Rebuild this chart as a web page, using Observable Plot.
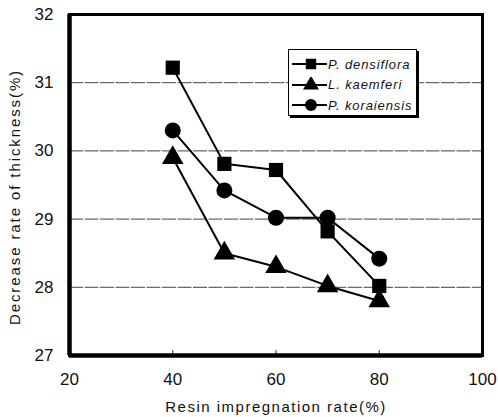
<!DOCTYPE html>
<html>
<head>
<meta charset="utf-8">
<script src="https://cdn.jsdelivr.net/npm/d3@7"></script>
<script src="https://cdn.jsdelivr.net/npm/@observablehq/plot@0.6"></script>
<style>
  html, body { margin: 0; padding: 0; background: #fff; }
  #wrap { position: relative; width: 498px; height: 417px; font-family: "Liberation Sans", Arial, sans-serif; }
  #legend { position: absolute; left: 288px; top: 49px; width: 129px; height: 67px;
    border: 1px solid #000; box-shadow: 2px 2px 0 #000; background: #fff; box-sizing: border-box; padding-top: 4px; }
  .row { display: flex; align-items: center; height: 20.5px; }
  .row span { font-style: italic; font-size: 13px; letter-spacing: 0.9px; margin-left: 1px; color: #111; }
</style>
</head>
<body>
<div id="wrap"></div>
<script>
const rates = [40, 50, 60, 70, 80];
const seriesNames = ["P. densiflora", "L. kaemferi", "P. koraiensis"];
const densiflora = [31.22, 29.81, 29.72, 28.82, 28.02];
const kaemferi = [29.9, 28.5, 28.3, 28.02, 27.8];
const koraiensis = [30.3, 29.42, 29.02, 29.02, 28.42];
const xTicks = [20, 40, 60, 80, 100];
const yTicks = [27, 28, 29, 30, 31, 32];
const gridValues = [28, 29, 30, 31];
const innerTicks = [40, 60, 80];
const symbols = ["square", "triangle", "circle"];

const seriesValues = [densiflora, kaemferi, koraiensis];
const data = seriesNames.flatMap((s, i) => rates.map((r, j) => ({series: s, rate: r, value: seriesValues[i][j]})));

const chart = Plot.plot({
  width: 498,
  height: 417,
  marginLeft: 69,
  marginRight: 16,
  marginTop: 14,
  marginBottom: 62,
  style: {fontFamily: "'Liberation Sans', Arial, sans-serif", fontSize: "17px", color: "#111", background: "#fff"},
  x: {domain: [20, 100]},
  y: {domain: [27, 32]},
  symbol: {domain: seriesNames, range: symbols},
  marks: [
    Plot.ruleY(gridValues, {stroke: "#444", strokeWidth: 1, strokeDasharray: "14,1.5"}),
    Plot.ruleX(innerTicks, {y1: 27, y2: 27.07, stroke: "#222", strokeWidth: 1}),
    Plot.line(data, {x: "rate", y: "value", z: "series", stroke: "#000", strokeWidth: 2}),
    Plot.dot(data, {x: "rate", y: "value", symbol: "series", fill: "#000", stroke: "none", r: 8}),
    Plot.frame({stroke: "#000", strokeWidth: 3}),
    Plot.ruleX([20], {stroke: "#000", strokeWidth: 4.5}),
    Plot.ruleY([27], {stroke: "#000", strokeWidth: 4.5}),
    Plot.axisX({ticks: xTicks, tickSize: 0, tickPadding: 17, fontSize: 17, tickFormat: "d",
      label: "Resin impregnation rate(%)", labelAnchor: "center", labelArrow: "none", labelOffset: 56}),
    Plot.axisY({ticks: yTicks, tickSize: 0, tickPadding: 16, fontSize: 17, tickFormat: "d", label: null}),
    Plot.text(["Decrease rate of thickness(%)"], {frameAnchor: "left", rotate: -90, dx: -54, dy: 12,
      fontSize: 15, fill: "#111", textAnchor: "middle"})
  ]
});
const wrap = document.getElementById("wrap");
wrap.appendChild(chart);

// axis title letter spacing
d3.select(chart).selectAll("text").filter(function() { return /Resin/.test(this.textContent); })
  .style("letter-spacing", "1.5px").style("font-size", "15px");
d3.select(chart).selectAll("text").filter(function() { return /Decrease/.test(this.textContent); })
  .style("letter-spacing", "1.9px").style("font-size", "15px");

// Legend
const legend = document.createElement("div");
legend.id = "legend";
seriesNames.forEach((name, i) => {
  const row = document.createElement("div");
  row.className = "row";
  const svg = d3.create("svg").attr("width", 38).attr("height", 16);
  svg.append("line").attr("x1", 3).attr("x2", 38).attr("y1", 8).attr("y2", 8).attr("stroke", "#000").attr("stroke-width", 2);
  const sym = [d3.symbolSquare, d3.symbolTriangle, d3.symbolCircle][i];
  svg.append("path").attr("d", d3.symbol(sym, 110)()).attr("transform", "translate(22,8)").attr("fill", "#000");
  row.appendChild(svg.node());
  const t = document.createElement("span");
  t.textContent = name;
  row.appendChild(t);
  legend.appendChild(row);
});
wrap.appendChild(legend);
</script>
</body>
</html>
